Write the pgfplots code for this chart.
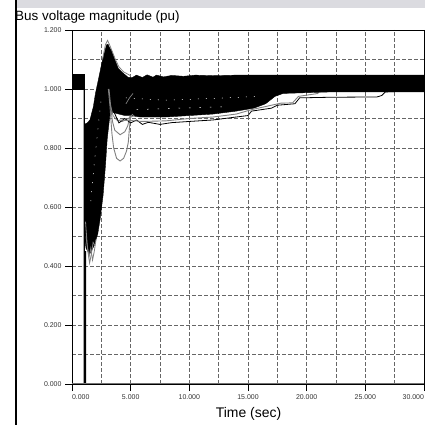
\documentclass[border=0pt]{standalone}
\usepackage{fontspec}
\setmainfont{Liberation Sans}
\usepackage{pgfplots}
\pgfplotsset{compat=1.18}
\definecolor{bargray}{rgb}{0.86,0.86,0.88}
\definecolor{gridc}{rgb}{0.40,0.40,0.40}
\definecolor{curvegray}{rgb}{0.50,0.50,0.50}
\begin{document}
\begin{tikzpicture}[x=1bp,y=1bp]
\path[use as bounding box] (0,0) rectangle (425,425);
\fill[bargray] (17,417) rectangle (425,425);
\begin{axis}[at={(72bp,41bp)}, anchor=south west, scale only axis,
  width=352bp, height=354bp,
  xmin=0, xmax=30, ymin=0, ymax=1.2,
  xtick={0,5,10,15,20,25,30}, minor xtick={2.5,7.5,12.5,17.5,22.5,27.5},
  ytick={0,0.2,0.4,0.6,0.8,1.0,1.2}, minor ytick={0.1,0.3,0.5,0.7,0.9,1.1},
  xticklabels={\makebox[0pt][l]{0.000},5.000,10.000,15.000,20.000,25.000,\makebox[0pt][r]{30.000}},
  yticklabels={0.000,0.200,0.400,0.600,0.800,1.000,1.200},
  grid=both,
  major grid style={gridc, line width=0.5bp, dash pattern=on 3.5bp off 2.5bp},
  minor grid style={gridc, line width=0.5bp, dash pattern=on 3.5bp off 2.5bp},
  tick align=outside, xtick pos=bottom, ytick pos=left,
  major tick length=7bp, minor tick length=0bp,
  tick style={black, line width=0.6bp},
  axis line style={black, line width=0.8bp},
  ticklabel style={font=\fontsize{7}{8}\selectfont, text=black!80},
  yticklabel style={anchor=east},
  xticklabel style={anchor=north},
]
% pre-fault block
\addplot[fill=black, draw=black, line width=0.4bp] coordinates {(0,1.0)(1.03,1.0)(1.03,1.05)(0,1.05)} -- cycle;
% main envelope: post-fault wedge, peak, settled band
\addplot[fill=black, draw=black, line width=0.4bp] coordinates {
 (1.05,0.88)(1.3,0.885)(1.53,0.895)(1.82,0.94)(2.0,0.985)(2.24,1.03)(2.5,1.08)(2.67,1.11)
 (2.95,1.15)(3.07,1.152)(3.2,1.14)(3.38,1.13)(3.67,1.098)(3.94,1.07)(4.35,1.054)(4.77,1.04)
 (5.1,1.038)(5.5,1.047)(6.0,1.039)(6.4,1.048)(6.9,1.04)(7.2,1.047)(7.8,1.041)(8.5,1.046)
 (9.5,1.043)(10.5,1.047)(12,1.045)(14,1.047)(18,1.047)(30,1.047)
 (30,0.99)(22,0.99)(18,0.985)(17.3,0.975)(16.5,0.95)(15.5,0.935)(14,0.925)(12,0.915)
 (10,0.91)(8,0.905)(5.8,0.905)(5.0,0.91)(4.5,0.91)(4.0,0.915)(3.5,0.92)(3.25,0.92)
 (3.2,0.90)(3.0,0.83)(2.85,0.74)(2.65,0.64)(2.4,0.56)(2.2,0.51)(1.9,0.47)(1.5,0.44)
 (1.2,0.46)(1.05,0.50)} -- cycle;
% faulted bus
\addplot[black, line width=1.3bp] coordinates {(1.04,1.0)(1.05,0)(1.15,0)(1.15,0.45)};
% grey traces at the bottom of the fault dip
\addplot[curvegray, line width=0.8bp] coordinates {(1.15,0.55)(1.3,0.47)(1.45,0.43)(1.6,0.46)(1.75,0.42)(1.9,0.45)(2.05,0.49)};
\addplot[curvegray, line width=0.8bp] coordinates {(1.2,0.50)(1.35,0.45)(1.5,0.41)(1.65,0.44)(1.8,0.48)(1.95,0.47)};
% peak outline
\addplot[curvegray, line width=0.8bp] coordinates {(2.6,1.10)(2.85,1.15)(3.03,1.165)(3.2,1.15)(3.4,1.13)(3.7,1.10)(4.0,1.075)(4.4,1.058)(5.0,1.045)};
% outlier dips after the peak
\addplot[curvegray, line width=0.9bp] coordinates {(3.1,1.0)(3.24,0.94)(3.4,0.85)(3.55,0.80)(3.8,0.765)(4.1,0.756)(4.4,0.765)(4.65,0.79)(4.8,0.82)(4.9,0.87)(5.0,0.905)(5.3,0.91)};
\addplot[curvegray, line width=0.9bp] coordinates {(3.15,1.0)(3.3,0.94)(3.45,0.89)(3.65,0.86)(4.1,0.845)(4.5,0.855)(4.75,0.875)(4.95,0.91)};
\addplot[curvegray, line width=0.8bp] coordinates {(3.25,0.95)(3.5,0.91)(3.8,0.895)(4.3,0.89)(4.8,0.90)(5.2,0.915)};
\addplot[curvegray, line width=0.7bp] coordinates {(4.6,0.95)(4.9,0.97)(5.2,0.985)};
% slow-recovering buses below the band
\addplot[black, line width=0.8bp] coordinates {(3.3,1.0)(3.6,0.92)(4.0,0.885)(4.5,0.90)(5.0,0.885)(5.5,0.895)(6.0,0.88)(6.5,0.887)(7.5,0.88)(8.5,0.886)(10,0.89)(12,0.895)(14,0.905)(15,0.91)(15.3,0.925)(17,0.935)(17.5,0.945)(19,0.95)(19.4,0.97)(22,0.972)(26,0.973)(26.4,0.978)(26.7,0.99)(30,0.995)};
\addplot[curvegray, line width=0.9bp] coordinates {(4.0,0.895)(5.0,0.893)(6.0,0.89)(8.0,0.892)(10,0.90)(12,0.905)(14,0.915)(15.3,0.93)(17,0.945)(17.8,0.952)(18.8,0.953)(19.3,0.975)(21,0.985)};
% gaps between traces inside the band
\addplot[white, line width=0.5bp, dash pattern=on 1bp off 7bp] coordinates {(4.6,0.97)(8,0.962)(12,0.968)(16,0.975)};
\addplot[white, line width=0.5bp, dash pattern=on 1.5bp off 9bp] coordinates {(5.5,0.93)(9,0.935)(13,0.94)};
\addplot[white, line width=0.5bp, dash pattern=on 1bp off 8bp] coordinates {(1.6,0.62)(1.9,0.75)(2.2,0.86)(2.5,0.97)};
% grey bottom axis line
\draw[black!55, line width=1.8bp] (axis cs:0,0) -- (axis cs:30,0);
\end{axis}
\draw[black, line width=0.8bp] (424,384) -- (424,395);
\draw[black, line width=2bp] (16,0) -- (16,425);
\node[anchor=west, inner sep=0pt, font=\fontsize{13.5}{15}\selectfont] at (15,408) {Bus voltage magnitude (pu)};
\node[inner sep=0pt, font=\fontsize{14}{16}\selectfont] at (248.5,11) {Time (sec)};
\end{tikzpicture}
\end{document}
